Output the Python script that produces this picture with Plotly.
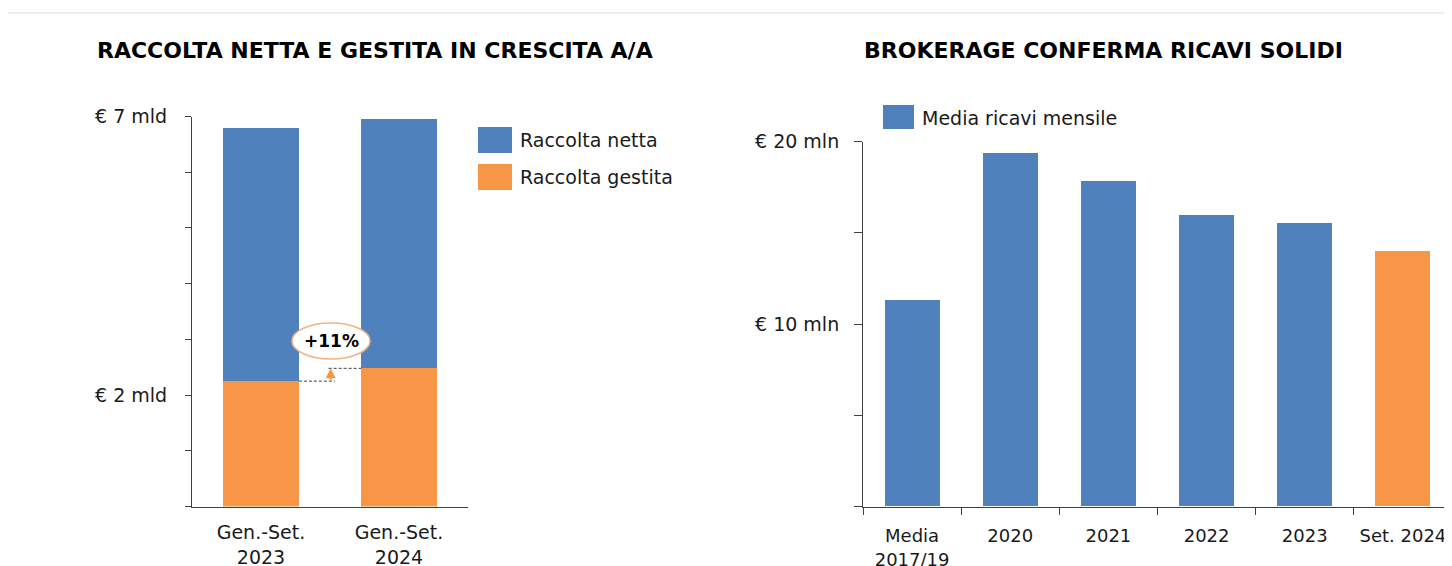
import plotly.graph_objects as go

# ---------------- data ----------------
left_categories = ["Gen.-Set.<br>2023", "Gen.-Set.<br>2024"]
raccolta_gestita = [2.25, 2.48]          # € mld (bottom segment)
raccolta_netta_extra = [4.55, 4.48]      # € mld (blue segment on top; totals 6.80 / 6.96)
left_tickvals = [0, 1, 2, 3, 4, 5, 6, 7]
left_ticktext = ["", "", "€ 2 mld", "", "", "", "", "€ 7 mld"]
growth_label = "+11%"

right_categories = ["Media<br>2017/19", "2020", "2021", "2022", "2023", "Set. 2024"]
ricavi_mensili = [11.3, 19.4, 17.85, 16.0, 15.55, 14.0]   # € mln
right_tickvals = [0, 5, 10, 15, 20]
right_ticktext = ["", "", "€ 10 mln", "", "€ 20 mln"]

titles = ["RACCOLTA NETTA E GESTITA IN CRESCITA A/A", "BROKERAGE CONFERMA RICAVI SOLIDI"]
legend_left = ["Raccolta netta", "Raccolta gestita"]
legend_right = ["Media ricavi mensile"]

# ---------------- style ----------------
OFF = 8                      # page body margin offset
W, H = 1452 - OFF, 566 - OFF
BLUE = "#4F81BD"
ORANGE = "#F79646"
AXIS = "#404040"
FONT = "DejaVu Sans"
TXT = "#1a1a1a"
FS = 19


def px(x):
    return (x - OFF) / W


def py(y):
    return 1 - (y - OFF) / H


right_colors = [BLUE] * (len(ricavi_mensili) - 1) + [ORANGE]

fig = go.Figure()
fig.add_trace(go.Bar(x=left_categories, y=raccolta_gestita, name=legend_left[1],
                     marker=dict(color=ORANGE, line=dict(width=0)), width=0.55,
                     xaxis="x", yaxis="y", showlegend=False))
fig.add_trace(go.Bar(x=left_categories, y=raccolta_netta_extra, name=legend_left[0],
                     marker=dict(color=BLUE, line=dict(width=0)), width=0.55,
                     xaxis="x", yaxis="y", showlegend=False))
fig.add_trace(go.Bar(x=right_categories, y=ricavi_mensili, name=legend_right[0],
                     marker=dict(color=right_colors, line=dict(width=0)), width=0.56,
                     xaxis="x2", yaxis="y2", showlegend=False))

tickfont = dict(family=FONT, size=FS, color=TXT)

fig.update_layout(
    template="none",
    width=W, height=H,
    margin=dict(l=0, r=0, t=0, b=0, pad=0, autoexpand=False),
    paper_bgcolor="white", plot_bgcolor="white",
    barmode="stack",
    showlegend=False,
    font=dict(family=FONT, size=FS, color=TXT),
    xaxis=dict(type="category", domain=[px(192), px(468)], range=[-0.5, 1.5], showline=True,
               linecolor=AXIS, linewidth=1, ticks="", showgrid=False, zeroline=False,
               tickfont=tickfont, ticklabelstandoff=9, automargin=False, fixedrange=True,
               tickangle=0, anchor="y"),
    yaxis=dict(domain=[py(506.5), py(116.5)], range=[0, 7], showline=True,
               linecolor=AXIS, linewidth=1, ticks="outside", ticklen=6, tickcolor=AXIS,
               tickvals=left_tickvals, ticktext=left_ticktext, showgrid=False,
               zeroline=False, tickfont=tickfont, ticklabelstandoff=14, automargin=False,
               anchor="x"),
    xaxis2=dict(type="category", domain=[px(863), 1.0], range=[-0.5, 5.5], showline=True,
                linecolor=AXIS, linewidth=1, ticks="outside", ticklen=7, tickcolor=AXIS,
                tickson="boundaries", showgrid=False, zeroline=False, tickangle=0,
                tickfont=dict(family=FONT, size=18, color=TXT), ticklabelstandoff=13,
                automargin=False, anchor="y2"),
    yaxis2=dict(domain=[py(506.5), py(141.7)], range=[0, 20], anchor="x2",
                showline=True, linecolor=AXIS, linewidth=1, ticks="outside", ticklen=8,
                tickcolor=AXIS, tickvals=right_tickvals, ticktext=right_ticktext,
                showgrid=False, zeroline=False, tickfont=tickfont, ticklabelstandoff=11,
                automargin=False),
)

shapes = []
annotations = []

# outer light border
shapes.append(dict(type="rect", xref="paper", yref="paper", x0=px(6), x1=px(1480),
                   y0=py(600), y1=py(13), line=dict(color="#EDEDED", width=2),
                   fillcolor="rgba(0,0,0,0)", layer="below"))

# titles
for t, cx in zip(titles, [375, 1103]):
    annotations.append(dict(text=f"<b>{t}</b>", xref="paper", yref="paper", x=px(cx), y=py(50),
                            xanchor="center", yanchor="middle", showarrow=False,
                            font=dict(family=FONT, size=22, color="black")))

# left legend
for i, (lab, col) in enumerate(zip(legend_left, [BLUE, ORANGE])):
    yc = 140 + i * 37
    shapes.append(dict(type="rect", xref="paper", yref="paper", x0=px(478), x1=px(512),
                       y0=py(yc + 13), y1=py(yc - 13), fillcolor=col, line=dict(width=0)))
    annotations.append(dict(text=lab, xref="paper", yref="paper", x=px(518), y=py(yc),
                            xanchor="left", yanchor="middle", showarrow=False,
                            font=dict(family=FONT, size=FS, color=TXT)))

# right legend
shapes.append(dict(type="rect", xref="paper", yref="paper", x0=px(883), x1=px(914),
                   y0=py(129), y1=py(105), fillcolor=BLUE, line=dict(width=0)))
annotations.append(dict(text=legend_right[0], xref="paper", yref="paper", x=px(920), y=py(118),
                        xanchor="left", yanchor="middle", showarrow=False,
                        font=dict(family=FONT, size=FS, color=TXT)))

# dashed connectors at top of the orange segments
shapes.append(dict(type="line", xref="x", yref="y", x0=0.275, x1=0.536,
                   y0=raccolta_gestita[0], y1=raccolta_gestita[0],
                   line=dict(color="#404040", width=1, dash="3px,2px")))
shapes.append(dict(type="line", xref="x", yref="y", x0=0.49, x1=0.725,
                   y0=raccolta_gestita[1], y1=raccolta_gestita[1],
                   line=dict(color="#404040", width=1, dash="3px,2px")))

# growth arrow
annotations.append(dict(x=0.505, y=raccolta_gestita[1], xref="x", yref="y",
                        ax=0.505, ay=raccolta_gestita[0], axref="x", ayref="y",
                        text="", showarrow=True, arrowhead=2, arrowsize=1,
                        arrowwidth=2, arrowcolor=ORANGE))

# ellipse label
shapes.append(dict(type="circle", xref="paper", yref="paper", x0=px(292), x1=px(370),
                   y0=py(359), y1=py(323), fillcolor="white",
                   line=dict(color="#F4B183", width=1.5)))
annotations.append(dict(text=f"<b>{growth_label}</b>", xref="paper", yref="paper",
                        x=px(331), y=py(341), xanchor="center", yanchor="middle",
                        showarrow=False, font=dict(family=FONT, size=17, color="black")))

fig.update_layout(shapes=shapes, annotations=annotations)
fig.write_html("out.html")
